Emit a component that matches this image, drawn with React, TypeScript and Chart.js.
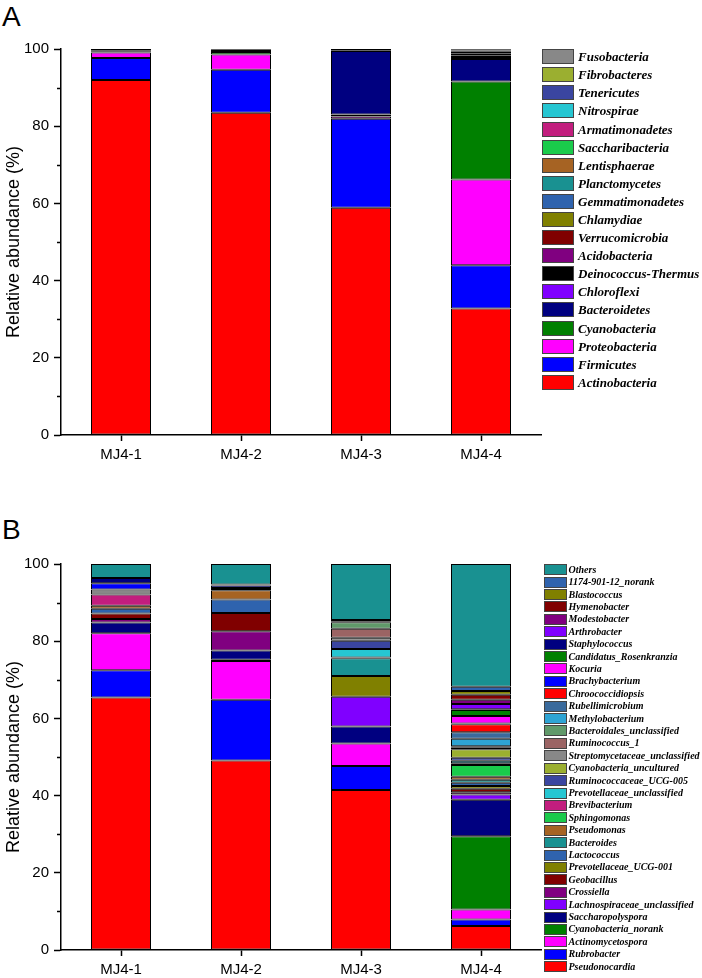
import React, { useEffect, useRef } from 'react';
import { Chart, registerables } from 'chart.js';

Chart.register(...registerables);

const SANS = '"Liberation Sans", Arial, Helvetica, sans-serif';
const SERIF = '"Liberation Serif", "Times New Roman", serif';

const samples = ['MJ4-1', 'MJ4-2', 'MJ4-3', 'MJ4-4'];
const yAxisTitle = 'Relative abundance (%)';

// ---------- Panel A: phyla (stack order bottom -> top) ----------
const phylumNames = [
  'Actinobacteria', 'Firmicutes', 'Proteobacteria', 'Cyanobacteria', 'Bacteroidetes',
  'Chloroflexi', 'Deinococcus-Thermus', 'Acidobacteria', 'Verrucomicrobia', 'Chlamydiae',
  'Gemmatimonadetes', 'Planctomycetes', 'Lentisphaerae', 'Saccharibacteria', 'Armatimonadetes',
  'Nitrospirae', 'Tenericutes', 'Fibrobacteres', 'Fusobacteria',
];
const phylumColors = [
  '#FF0000', '#0000FF', '#FF00FF', '#008000', '#000080',
  '#8000FF', '#000000', '#800080', '#800000', '#808000',
  '#2F63AE', '#199191', '#A66323', '#1ACB4B', '#C21E7E',
  '#26C6D2', '#3A45A0', '#9BAF30', '#888888',
];
const phylumMJ41 = [92.0, 5.7, 1.4, 0.3, 0.3, 0, 0.3, 0, 0, 0, 0, 0, 0, 0, 0, 0, 0, 0, 0];
const phylumMJ42 = [83.5, 11.1, 4.0, 0.6, 0.3, 0, 0.3, 0.2, 0, 0, 0, 0, 0, 0, 0, 0, 0, 0, 0];
const phylumMJ43 = [58.9, 23.0, 0.6, 0.5, 16.5, 0, 0.2, 0, 0.3, 0, 0, 0, 0, 0, 0, 0, 0, 0, 0];
const phylumMJ44 = [32.8, 11.2, 22.2, 25.4, 5.8, 0.5, 0.5, 0.5, 0.4, 0.3, 0.2, 0.2, 0, 0, 0, 0, 0, 0, 0];

// ---------- Panel B: genera (stack order bottom -> top) ----------
const genusNames = [
  'Pseudonocardia', 'Rubrobacter', 'Actinomycetospora', 'Cyanobacteria_norank', 'Saccharopolyspora',
  'Lachnospiraceae_unclassified', 'Crossiella', 'Geobacillus', 'Prevotellaceae_UCG-001', 'Lactococcus',
  'Bacteroides', 'Pseudomonas', 'Sphingomonas', 'Brevibacterium', 'Prevotellaceae_unclassified',
  'Ruminococcaceae_UCG-005', 'Cyanobacteria_uncultured', 'Streptomycetaceae_unclassified', 'Ruminococcus_1', 'Bacteroidales_unclassified',
  'Methylobacterium', 'Rubellimicrobium', 'Chroococcidiopsis', 'Brachybacterium', 'Kocuria',
  'Candidatus_Rosenkranzia', 'Staphylococcus', 'Arthrobacter', 'Modestobacter', 'Hymenobacter',
  'Blastococcus', '1174-901-12_norank', 'Others',
];
const genusColors = [
  '#FF0000', '#0000FF', '#FF00FF', '#008000', '#000080',
  '#8000FF', '#800080', '#800000', '#808000', '#2F63AE',
  '#199191', '#A66323', '#1ACB4B', '#C21E7E', '#26C6D2',
  '#3A45A0', '#9BAF30', '#888888', '#9B6464', '#60996A',
  '#2EA4D4', '#3A6A9C', '#FF0000', '#0000FF', '#FF00FF',
  '#008000', '#000080', '#8000FF', '#800080', '#800000',
  '#808000', '#2F63AE', '#199191',
];
const genusMJ41 = [65.4, 7.1, 9.55, 0, 2.8, 0, 0.9, 1.45, 0, 1.2, 0, 0.8, 0, 2.9, 0, 0, 0, 1.3, 0, 0, 0, 0, 0, 1.6, 0, 0, 1.4, 0, 0, 0, 0, 0, 3.6];
const genusMJ42 = [49.1, 15.7, 10.1, 0.3, 2.4, 0, 5.0, 4.7, 0, 3.5, 0, 2.4, 0, 0, 0, 0, 0, 0.3, 0, 0, 0, 0, 0, 0, 0.3, 0, 0.6, 0.3, 0, 0, 0, 0, 5.3];
const genusMJ43 = [41.45, 6.25, 5.8, 0, 4.4, 7.7, 0, 0, 5.4, 0, 4.6, 0, 0, 0.2, 2.2, 2.1, 0, 0.8, 2.3, 1.7, 0, 0, 0, 0, 0, 0, 0.3, 0.3, 0, 0, 0, 0, 14.5];
const genusMJ44 = [6.2, 1.7, 2.6, 19.0, 9.4, 1.4, 0.6, 0.9, 0.7, 0.8, 0.8, 0.8, 3.0, 0.5, 0.6, 0.8, 2.2, 0.3, 0.2, 0.3, 1.9, 1.7, 2.1, 0.2, 1.9, 1.6, 0.2, 1.3, 1.1, 1.3, 1.0, 1.1, 31.8];

function buildDatasets(names: string[], colors: string[], perSample: number[][]) {
  return names.map((name, i) => ({
    label: name,
    data: perSample.map((arr) => (arr[i] === 0 ? null : arr[i])),
    backgroundColor: colors[i],
    borderColor: '#000000',
    borderWidth: 1,
    borderSkipped: false as const,
    barPercentage: 0.5,
    categoryPercentage: 1.0,
  }));
}

const minorTicks = {
  id: 'minorTicks',
  afterDraw(chart: any) {
    const y = chart.scales.y;
    const ctx = chart.ctx;
    const left = chart.chartArea.left;
    ctx.save();
    ctx.strokeStyle = '#000';
    ctx.lineWidth = 1.5;
    y.ticks.forEach((t: any) => {
      if (t.value % 20 !== 0) {
        const py = Math.round(y.getPixelForValue(t.value)) + 0.5;
        ctx.beginPath();
        ctx.moveTo(left - 4, py);
        ctx.lineTo(left, py);
        ctx.stroke();
      }
    });
    ctx.restore();
  },
};

const CANVAS_W = 545;
const AREA_BOTTOM = 435;

function makeOptions(height: number): any {
  return {
    responsive: false,
    animation: false,
    events: [],
    layout: { padding: { top: 49, left: 0, right: 4, bottom: 0 } },
    plugins: { legend: { display: false }, tooltip: { enabled: false } },
    scales: {
      x: {
        stacked: true,
        offset: true,
        grid: {
          display: true,
          drawOnChartArea: false,
          offset: false,
          drawTicks: true,
          tickLength: 6,
          tickColor: '#000',
          tickWidth: 1.5,
        },
        border: { display: true, color: '#000', width: 1.5 },
        ticks: { color: '#000', font: { family: SANS, size: 15 }, padding: 5, maxRotation: 0 },
        afterFit: (s: any) => {
          s.height = height - AREA_BOTTOM;
        },
      },
      y: {
        stacked: true,
        min: 0,
        max: 100,
        grid: {
          display: true,
          drawOnChartArea: false,
          drawTicks: true,
          tickLength: 7,
          tickWidth: 1.5,
          tickColor: (ctx: any) => (ctx.tick && ctx.tick.value % 20 === 0 ? '#000' : 'rgba(0,0,0,0)'),
        },
        border: { display: true, color: '#000', width: 1.5 },
        ticks: {
          stepSize: 10,
          color: '#000',
          font: { family: SANS, size: 15 },
          padding: 5,
          callback: (v: any) => (Number(v) % 20 === 0 ? String(v) : ''),
        },
        title: {
          display: true,
          text: yAxisTitle,
          color: '#000',
          font: { family: SANS, size: 18 },
          padding: { top: 3, bottom: 0 },
        },
        afterFit: (s: any) => {
          s.width = 61;
        },
      },
    },
  };
}

function Panel(props: { names: string[]; colors: string[]; perSample: number[][]; top: number; height: number }) {
  const ref = useRef<HTMLCanvasElement>(null);
  useEffect(() => {
    const chart = new Chart(ref.current as HTMLCanvasElement, {
      type: 'bar',
      data: { labels: samples, datasets: buildDatasets(props.names, props.colors, props.perSample) as any },
      options: makeOptions(props.height),
      plugins: [minorTicks],
    });
    return () => chart.destroy();
  }, []);
  return (
    <canvas
      ref={ref}
      width={CANVAS_W}
      height={props.height}
      style={{ position: 'absolute', left: 0, top: props.top, width: CANVAS_W, height: props.height, display: 'block' }}
    />
  );
}

function Legend(props: {
  names: string[];
  colors: string[];
  left: number;
  top: number;
  rowH: number;
  boxW: number;
  boxH: number;
  gap: number;
  fontSize: number;
}) {
  const items = props.names.map((n, i) => ({ n, c: props.colors[i] })).reverse();
  return (
    <div style={{ position: 'absolute', left: props.left, top: props.top }}>
      {items.map((it) => (
        <div key={it.n} style={{ display: 'flex', alignItems: 'center', height: props.rowH, whiteSpace: 'nowrap' }}>
          <div
            style={{
              width: props.boxW,
              height: props.boxH,
              boxSizing: 'border-box',
              border: '1px solid #444',
              background: it.c,
              flex: '0 0 auto',
            }}
          />
          <span
            style={{
              marginLeft: props.gap,
              fontFamily: SERIF,
              fontWeight: 'bold',
              fontStyle: 'italic',
              fontSize: props.fontSize,
              lineHeight: 1,
              color: '#000',
            }}
          >
            {it.n}
          </span>
        </div>
      ))}
    </div>
  );
}

export default function App() {
  const phylaSamples = [phylumMJ41, phylumMJ42, phylumMJ43, phylumMJ44];
  const genusSamples = [genusMJ41, genusMJ42, genusMJ43, genusMJ44];
  return (
    <div style={{ position: 'absolute', left: 0, top: 0, width: 702, height: 978, background: '#fff', overflow: 'hidden' }}>
      <div style={{ position: 'absolute', left: 2, top: 3, fontFamily: SANS, fontSize: 28, lineHeight: 1 }}>A</div>
      <div style={{ position: 'absolute', left: 2, top: 516, fontFamily: SANS, fontSize: 28, lineHeight: 1 }}>B</div>
      <Panel names={phylumNames} colors={phylumColors} perSample={phylaSamples} top={0} height={490} />
      <Panel names={genusNames} colors={genusColors} perSample={genusSamples} top={515} height={463} />
      <Legend names={phylumNames} colors={phylumColors} left={542} top={47.6} rowH={18.1} boxW={32} boxH={15} gap={4} fontSize={13} />
      <Legend names={genusNames} colors={genusColors} left={544} top={563.5} rowH={12.42} boxW={23} boxH={11} gap={1.5} fontSize={10} />
    </div>
  );
}
